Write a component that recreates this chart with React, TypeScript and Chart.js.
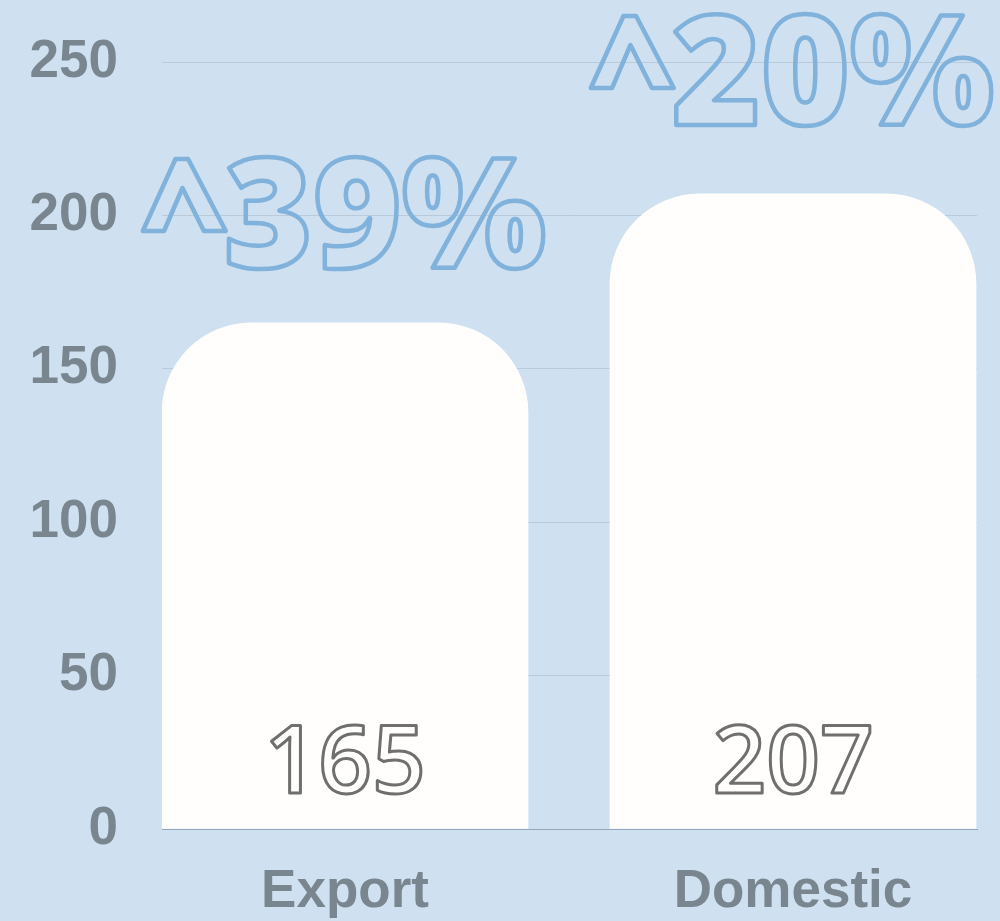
import React, { useEffect, useRef } from "react";
import { Chart, registerables } from "chart.js";

Chart.register(...registerables);

const categories = ["Export", "Domestic"];
const values = [165, 207];
const changes = ["^39%", "^20%"];
const yTicks = [0, 50, 100, 150, 200, 250];

const BG = "#cfe1f1";
const BAR = "#fffefc";
const TICK = "#7a868f";
const GRID = "#b9cada";
const PCT = "#80b2dc";
const VAL = "#6f6f6f";

const labelPlugin = {
  id: "barLabels",
  afterDatasetsDraw(chart: any) {
    const ctx = chart.ctx;
    const meta = chart.getDatasetMeta(0);
    const ys = chart.scales.y;
    meta.data.forEach((bar: any, i: number) => {
      const x = bar.x;
      ctx.save();
      ctx.textAlign = "center";
      ctx.textBaseline = "alphabetic";
      ctx.lineJoin = "round";
      // value inside bar
      ctx.font = '600 94px "Open Sans"';
      const vy = ys.getPixelForValue(0) - 36;
      ctx.fillStyle = BAR;
      ctx.fillText(String(values[i]), x, vy);
      ctx.lineWidth = 3;
      ctx.strokeStyle = VAL;
      ctx.strokeText(String(values[i]), x, vy);
      // change label above bar
      ctx.font = '800 152px "Open Sans"';
      const py = ys.getPixelForValue(values[i] * 1.108);
      ctx.lineWidth = 4.5;
      ctx.strokeStyle = PCT;
      ctx.strokeText(changes[i], x, py);
      ctx.restore();
    });
  },
};

export default function App() {
  const ref = useRef<HTMLCanvasElement | null>(null);
  useEffect(() => {
    if (!ref.current) return;
    const chart = new Chart(ref.current, {
      type: "bar",
      data: {
        datasets: [
          {
            data: values.map((v, i) => ({ x: i, y: v })) as any,
            backgroundColor: BAR,
            borderWidth: 0,
            borderRadius: { topLeft: 90, topRight: 90, bottomLeft: 0, bottomRight: 0 },
            borderSkipped: "bottom",
            barThickness: 366,
          },
        ],
      },
      options: {
        animation: false,
        responsive: false,
        events: [],
        layout: { padding: { top: 62, right: 23, left: 0, bottom: 0 } },
        plugins: { legend: { display: false }, tooltip: { enabled: false } },
        scales: {
          x: {
            type: "linear",
            offset: false,
            min: -0.4085,
            max: 1.4107,
            afterBuildTicks: (s: any) => {
              s.ticks = categories.map((_, i) => ({ value: i }));
            },
            afterFit: (s: any) => {
              s.height = 92;
              s.paddingLeft = 0;
              s.paddingRight = 0;
            },
            grid: { display: false, drawTicks: false, offset: false },
            border: { display: true, color: "#93a7ba", width: 1 },
            ticks: {
              padding: 32,
              color: TICK,
              font: { family: '"Liberation Sans", Arial', size: 53, weight: "bold" },
              callback: (v: any) => categories[v] ?? "",
              maxRotation: 0,
              autoSkip: false,
            },
          },
          y: {
            min: 0,
            max: 250,
            afterBuildTicks: (s: any) => {
              s.ticks = yTicks.map((v) => ({ value: v }));
            },
            afterFit: (s: any) => {
              s.width = 162;
              s.paddingTop = 0;
              s.paddingBottom = 0;
            },
            grid: { color: GRID, lineWidth: 1, drawTicks: false },
            border: { display: false },
            ticks: {
              padding: 44,
              color: TICK,
              font: { family: '"Liberation Sans", Arial', size: 53, weight: "bold" },
            },
          },
        },
      },
      plugins: [labelPlugin],
    });
    return () => chart.destroy();
  }, []);
  return (
    <div style={{ position: "fixed", left: 0, top: 0, width: 1000, height: 921, background: BG }}>
      <canvas ref={ref} width={1000} height={921} style={{ display: "block" }} />
    </div>
  );
}
